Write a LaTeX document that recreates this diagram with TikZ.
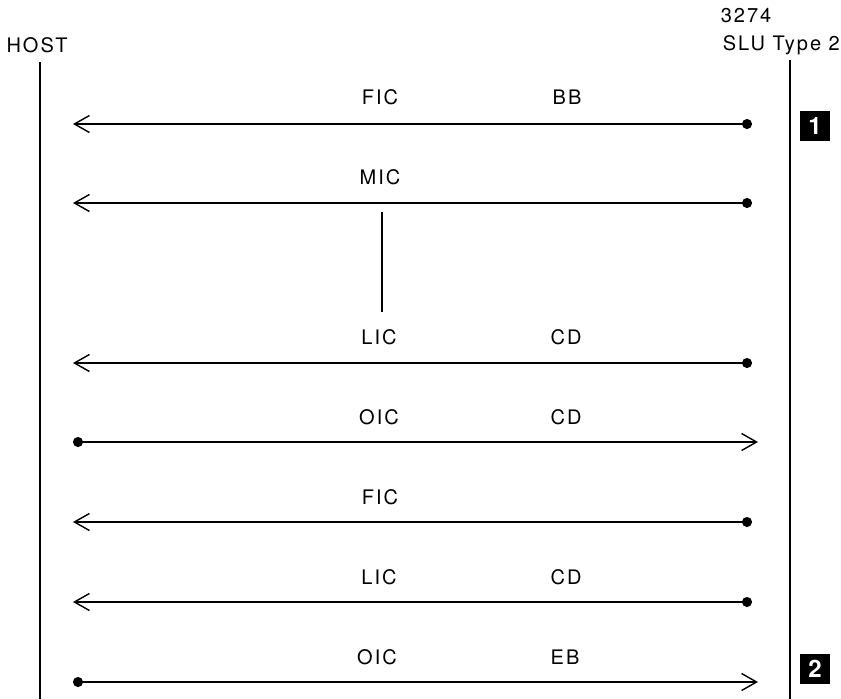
\documentclass[tikz,border=0pt]{standalone}
\usepackage{fontspec}
\setmainfont{TeX Gyre Heros}[LetterSpace=10]
\usetikzlibrary{arrows.meta}
\begin{document}
\begin{tikzpicture}[x=1pt,y=-1pt,
  lbl/.style={font=\fontsize{20}{22}\selectfont, inner sep=0},
  life/.style={line width=1.6pt},
  msg/.style={line width=1.5pt, {Circle[length=10pt]}-{Straight Barb[length=15pt,width=17pt,line width=1.4pt]}},
  marker/.style={fill=black, text=white, minimum size=30pt, inner sep=0,
    font=\fontsize{24}{24}\selectfont\bfseries}]
\useasboundingbox (0,0) rectangle (841,699);
% lifelines
\node[lbl] (host) at (37,45) {HOST};
\node[lbl] (n3274) at (746,16) {3274};
\node[lbl, anchor=east] (slu) at (840,45) {SLU Type 2};
\coordinate (hosttop) at (40,62);
\coordinate (hostbot) at (40,699);
\coordinate (slutop) at (790,60);
\coordinate (slubot) at (790,699);
\draw[life] (hosttop) -- (hostbot);
\draw[life] (slutop) -- (slubot);
% ends of the messages
\coordinate (l1) at (73,124);  \coordinate (r1) at (752,124);
\coordinate (l2) at (73,203);  \coordinate (r2) at (752,203);
\coordinate (l3) at (73,363);  \coordinate (r3) at (752,363);
\coordinate (l4) at (73,442);  \coordinate (r4) at (758,442);
\coordinate (l5) at (73,522);  \coordinate (r5) at (752,522);
\coordinate (l6) at (73,602);  \coordinate (r6) at (752,602);
\coordinate (l7) at (73,682);  \coordinate (r7) at (758,682);
\draw[msg] (r1) -- (l1);
\draw[msg] (r2) -- (l2);
\draw[msg] (r3) -- (l3);
\draw[msg] (l4) -- (r4);
\draw[msg] (r5) -- (l5);
\draw[msg] (r6) -- (l6);
\draw[msg] (l7) -- (r7);
% labels
\node[lbl] (fic1) at (380,97) {FIC};
\node[lbl] (bb1) at (567,97) {BB};
\node[lbl] (mic2) at (380,177) {MIC};
\node[lbl] (lic3) at (379,337) {LIC};
\node[lbl] (cd3) at (566,337) {CD};
\node[lbl] (oic4) at (379,417) {OIC};
\node[lbl] (cd4) at (566,417) {CD};
\node[lbl] (fic5) at (380,497) {FIC};
\node[lbl] (lic6) at (379,577) {LIC};
\node[lbl] (cd6) at (566,577) {CD};
\node[lbl] (oic7) at (377,657) {OIC};
\node[lbl] (eb7) at (565,657) {EB};
% continuation
\coordinate (gaptop) at (382,212);
\coordinate (gapbot) at (382,312);
\draw[line width=1.6pt] (gaptop) -- (gapbot);
% markers
\node[marker] (mark1) at (815,126) {1};
\node[marker] (mark2) at (815,669) {2};
\end{tikzpicture}
\end{document}
